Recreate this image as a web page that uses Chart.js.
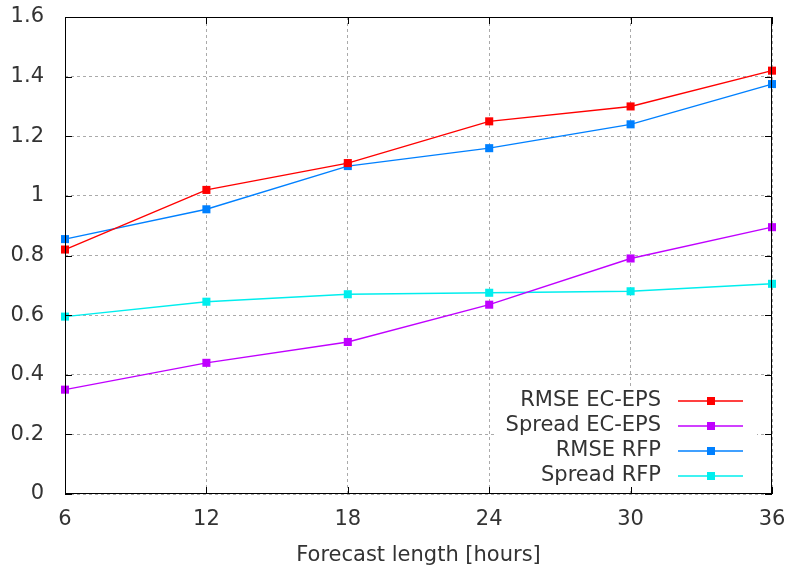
<!DOCTYPE html>
<html>
<head>
<meta charset="utf-8">
<script src="https://cdn.jsdelivr.net/npm/chart.js@4"></script>
<style>
  html, body { margin: 0; padding: 0; background: #fff; }
  #wrap { width: 785px; height: 568px; }
</style>
</head>
<body>
<div id="wrap"><canvas id="myChart" width="785" height="568"></canvas></div>
<script>
const hours = ["6", "12", "18", "24", "30", "36"];
const rmseEc = [0.82, 1.02, 1.11, 1.25, 1.30, 1.42];
const spreadEc = [0.35, 0.44, 0.51, 0.635, 0.79, 0.895];
const rmseRfp = [0.855, 0.955, 1.10, 1.16, 1.24, 1.375];
const spreadRfp = [0.595, 0.645, 0.67, 0.675, 0.68, 0.705];
const seriesNames = ["RMSE EC-EPS", "Spread EC-EPS", "RMSE RFP", "Spread RFP"];
const seriesColors = ["#ff0000", "#c000ff", "#0080ff", "#00eeee"];
const yTicks = [0, 0.2, 0.4, 0.6, 0.8, 1, 1.2, 1.4, 1.6];

const font = "DejaVu Sans";
const textColor = "#333";

function makeSet(i, values) {
  return {
    label: seriesNames[i],
    data: values,
    borderColor: seriesColors[i],
    backgroundColor: seriesColors[i],
    borderWidth: 1.4,
    pointStyle: "rect",
    pointRadius: 5.7,
    pointBorderWidth: 0,
    pointHoverRadius: 5.7,
    tension: 0,
    clip: false
  };
}

// legend box + frame with inward ticks, like gnuplot
const gnuplotLook = {
  id: "gnuplotLook",
  afterDatasetsDraw(chart) {
    const c = chart.ctx;
    c.save();
    c.fillStyle = "#fff";
    c.fillRect(495, 389, 262, 101);
    c.font = "21px " + font;
    c.textAlign = "right";
    c.textBaseline = "middle";
    for (let i = 0; i < seriesNames.length; i++) {
      const y = 401 + i * 25;
      c.fillStyle = textColor;
      c.fillText(seriesNames[i], 661, y);
      c.strokeStyle = seriesColors[i];
      c.lineWidth = 1.4;
      c.beginPath();
      c.moveTo(678, y);
      c.lineTo(743, y);
      c.stroke();
      c.fillStyle = seriesColors[i];
      c.fillRect(707, y - 4, 8, 8);
    }
    c.restore();
  },
  afterDraw(chart) {
    const c = chart.ctx;
    const a = chart.chartArea;
    const xs = chart.scales.x;
    const ys = chart.scales.y;
    c.save();
    c.strokeStyle = "#000";
    c.lineWidth = 1;
    c.strokeRect(a.left + 0.5, a.top + 0.5, a.right - a.left - 1, a.bottom - a.top - 1);
    c.beginPath();
    yTicks.forEach(v => {
      const y = Math.round(ys.getPixelForValue(v)) + 0.5;
      c.moveTo(a.left, y); c.lineTo(a.left + 7, y);
      c.moveTo(a.right, y); c.lineTo(a.right - 7, y);
    });
    hours.forEach((h, i) => {
      const x = Math.round(xs.getPixelForValue(i)) + 0.5;
      c.moveTo(x, a.bottom); c.lineTo(x, a.bottom - 7);
      c.moveTo(x, a.top); c.lineTo(x, a.top + 7);
    });
    c.stroke();
    c.restore();
  }
};

const ctx = document.getElementById("myChart").getContext("2d");
const myChart = new Chart(ctx, {
  type: "line",
  data: {
    labels: hours,
    datasets: [
      makeSet(0, rmseEc),
      makeSet(1, spreadEc),
      makeSet(2, rmseRfp),
      makeSet(3, spreadRfp)
    ]
  },
  plugins: [gnuplotLook],
  options: {
    responsive: false,
    animation: false,
    layout: { padding: { left: 0, right: 13, top: 17, bottom: 0 } },
    plugins: {
      legend: { display: false },
      tooltip: { enabled: false }
    },
    scales: {
      x: {
        type: "category",
        offset: false,
        grid: { color: "#aaa", lineWidth: 1, drawTicks: false },
        border: { display: false, dash: [3, 3] },
        ticks: { color: textColor, font: { family: font, size: 21 }, padding: 13, maxRotation: 0 },
        title: {
          display: true,
          text: "Forecast length [hours]",
          color: textColor,
          font: { family: font, size: 21 },
          padding: { top: 4, bottom: 0 }
        },
        afterFit(scale) {
          scale.height = 74;
          scale.paddingLeft = 0;
          scale.paddingRight = 0;
        }
      },
      y: {
        min: 0,
        max: 1.6,
        afterBuildTicks(scale) { scale.ticks = yTicks.map(v => ({ value: v })); },
        grid: { color: "#aaa", lineWidth: 1, drawTicks: false },
        border: { display: false, dash: [3, 3] },
        ticks: {
          color: textColor,
          font: { family: font, size: 21 },
          padding: 21,
          callback: v => String(Math.round(v * 10) / 10)
        },
        afterFit(scale) {
          scale.width = 65;
          scale.paddingTop = 0;
          scale.paddingBottom = 0;
        }
      }
    }
  }
});
</script>
</body>
</html>
